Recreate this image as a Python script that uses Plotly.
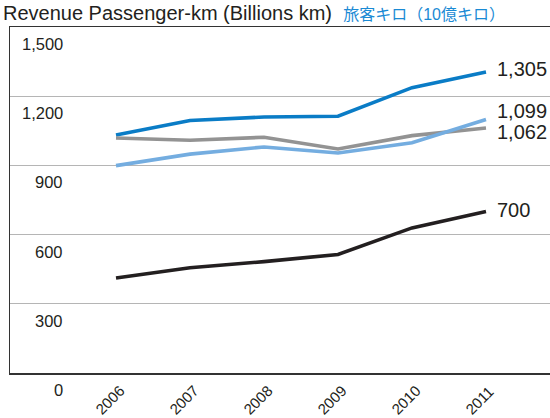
import plotly.graph_objects as go

years = [2006, 2007, 2008, 2009, 2010, 2011]
series_a = [1032, 1095, 1110, 1113, 1237, 1305]   # dark blue
series_b = [1019, 1009, 1022, 971, 1029, 1062]    # gray
series_c = [899, 949, 980, 954, 998, 1099]        # light blue
series_d = [412, 456, 483, 514, 629, 700]         # black
end_labels = ["1,305", "1,062", "1,099", "700"]
y_ticks = [0, 300, 600, 900, 1200, 1500]
y_tick_labels = ["0", "300", "600", "900", "1,200", "1,500"]
x_tick_labels = ["2006", "2007", "2008", "2009", "2010", "2011"]

colors = ["#0a7cc6", "#939393", "#74ade0", "#231f20"]
series = [series_a, series_b, series_c, series_d]
label_shift = [3, -4, 9, 2]

FONT = "Liberation Sans, Arial, Noto Sans CJK JP, sans-serif"
W, H = 550, 418
L, R, T, B = 10, 0, 27, 45
pw = W - L - R

fig = go.Figure()
for s, c in zip(series, colors):
    fig.add_trace(go.Scatter(x=years, y=s, mode="lines",
                             line=dict(color=c, width=3.6), hoverinfo="skip"))

ann = []
for s, lab, sh in zip(series, end_labels, label_shift):
    ann.append(dict(x=years[-1], y=s[-1], xref="x", yref="y", text=lab,
                    showarrow=False, xanchor="left", yanchor="middle",
                    xshift=9, yshift=sh,
                    font=dict(family=FONT, size=20, color="#231f20")))
for v, lab in zip(y_ticks, y_tick_labels):
    ann.append(dict(x=(65 - L) / pw, y=v, xref="paper", yref="y", text=lab,
                    showarrow=False, xanchor="right", yanchor="middle",
                    yshift=-17,
                    font=dict(family=FONT, size=16.5, color="#231f20")))
for yr, lab in zip(years, x_tick_labels):
    ann.append(dict(x=yr, y=0, xref="x", yref="y", text=lab,
                    showarrow=False, xanchor="center", yanchor="middle",
                    xshift=-7, yshift=-27, textangle=-45,
                    font=dict(family=FONT, size=15, color="#231f20")))
ann.append(dict(x=-9 / pw, y=1, xref="paper", yref="paper",
                text="Revenue Passenger-km (Billions km)  "
                     "<span style='color:#1a8ad4;font-size:16px'>旅客キロ（10億キロ）</span>",
                showarrow=False, xanchor="left", yanchor="bottom", yshift=1,
                font=dict(family=FONT, size=20, color="#231f20")))

# x range mapped so 2006 sits at 116px and 2011 at 486px
x_lo = 2006 - (116 - L) / 74.0
x_hi = 2011 + (W - R - 486) / 74.0

fig.update_layout(
    width=W, height=H,
    margin=dict(l=L, r=R, t=T, b=B),
    paper_bgcolor="white", plot_bgcolor="white",
    showlegend=False,
    annotations=ann,
    xaxis=dict(range=[x_lo, x_hi], showgrid=False, zeroline=False,
               showticklabels=False, ticks="", showline=True, mirror=True,
               linecolor="#333333", linewidth=1.5, fixedrange=True),
    yaxis=dict(range=[0, 1500], tickvals=[300, 600, 900, 1200],
               showticklabels=False, ticks="", showgrid=True, mirror=False,
               gridcolor="#b5b5b5", gridwidth=1, zeroline=False,
               showline=True, linecolor="#333333", linewidth=1.5,
               fixedrange=True),
)

fig.write_html(
    "out.html",
    config={"displayModeBar": False, "staticPlot": True},
    post_script=("document.body.style.margin='0';"
                 "document.body.style.overflow='hidden';"
                 "document.documentElement.style.overflow='hidden';"),
)
